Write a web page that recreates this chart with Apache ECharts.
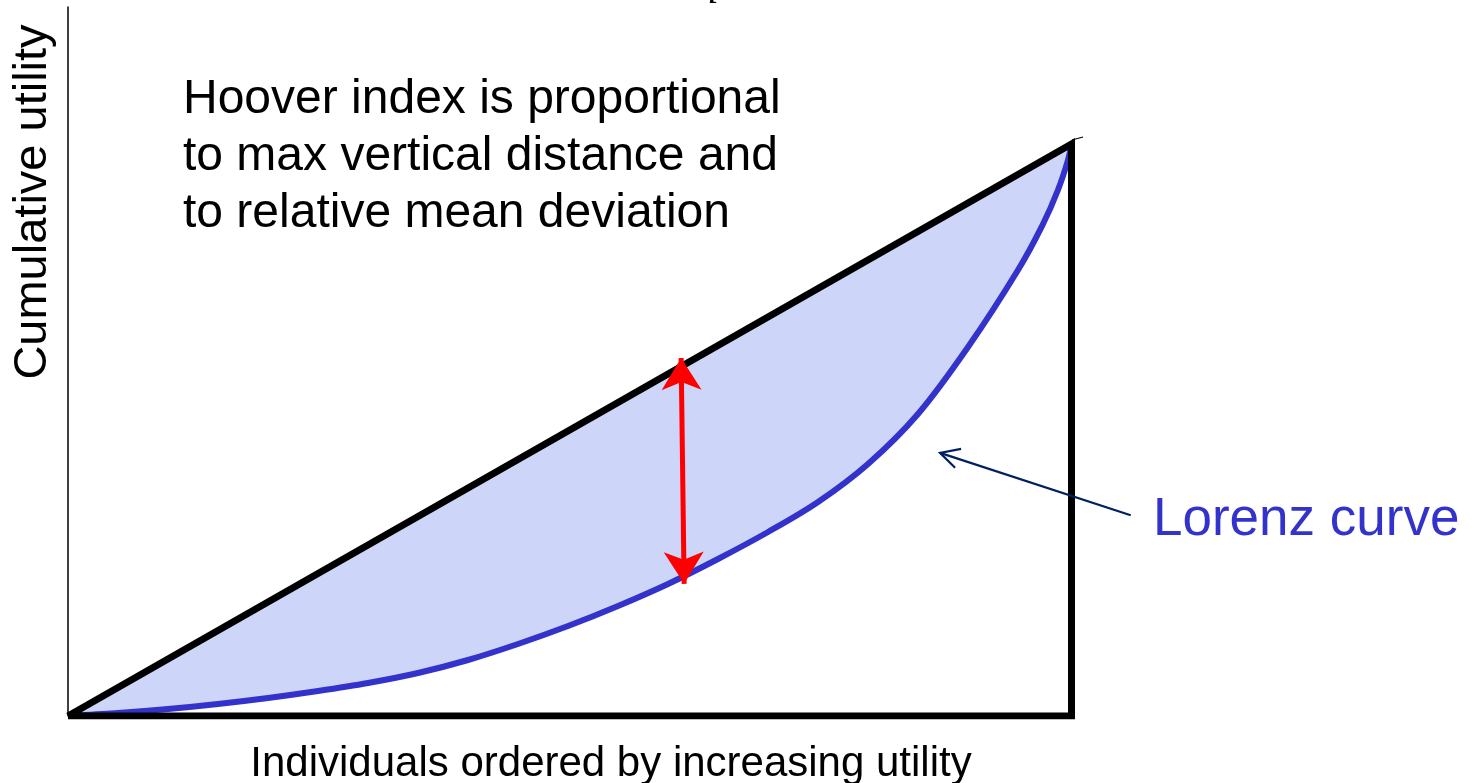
<!DOCTYPE html>
<html>
<head>
<meta charset="utf-8">
<script src="https://cdn.jsdelivr.net/npm/echarts@6/dist/echarts.min.js"></script>
<style>
html,body{margin:0;padding:0;background:#fff;}
#chart{width:1474px;height:783px;}
</style>
</head>
<body>
<div id="chart"></div>
<script>
// ---- data ----
const lorenzX = [0, 0.0498, 0.0997, 0.1495, 0.1993, 0.2491, 0.2989, 0.3488, 0.3986, 0.4484, 0.4983, 0.5481, 0.5979, 0.6477, 0.6976, 0.7474, 0.7972, 0.8470, 0.8969, 0.9467, 0.9716, 0.9865, 0.9965, 1];
const lorenzY = [0, 0.0052, 0.0122, 0.0210, 0.0315, 0.0437, 0.0577, 0.0752, 0.0979, 0.1259, 0.1573, 0.1923, 0.2308, 0.2745, 0.3217, 0.3741, 0.4406, 0.5280, 0.6451, 0.7797, 0.8601, 0.9196, 0.9720, 1];
const equalityLine = [[0, 0], [1, 1]];
const frameLine = [[0, 0], [1, 1], [1, 0], [0, 0]];
const hooverArrow = [[0.611, 0.626], [0.614, 0.231]];
const pointerLine = [[1.059, 0.351], [0.869, 0.460]];
const pointerHead = [[0.890, 0.467], [0.869, 0.460], [0.884, 0.434]];
const cornerTick = [[1.0005, 1.007], [1.0115, 1.0122]];
const noteLines = ['Hoover index is proportional', 'to max vertical distance and', 'to relative mean deviation'];
const curveLabel = 'Lorenz curve';
const xTitle = 'Individuals ordered by increasing utility';
const yTitle = 'Cumulative utility';

const lorenzData = lorenzX.map((x, i) => [x, lorenzY[i]]);

// smooth path (Catmull-Rom -> cubic Bezier) through pixel points
function curvePath(pts) {
  let d = 'M' + pts[0][0] + ',' + pts[0][1];
  for (let i = 0; i < pts.length - 1; i++) {
    const p0 = pts[Math.max(i - 1, 0)], p1 = pts[i], p2 = pts[i + 1], p3 = pts[Math.min(i + 2, pts.length - 1)];
    const c1x = p1[0] + (p2[0] - p0[0]) / 6, c1y = p1[1] + (p2[1] - p0[1]) / 6;
    const c2x = p2[0] - (p3[0] - p1[0]) / 6, c2y = p2[1] - (p3[1] - p1[1]) / 6;
    d += 'C' + c1x + ',' + c1y + ',' + c2x + ',' + c2y + ',' + p2[0] + ',' + p2[1];
  }
  return d;
}

const chart = echarts.init(document.getElementById('chart'));
const FONT = 'Liberation Sans, Arial, sans-serif';
const noteY = [100, 157, 214];
const X_MAX = 1.4;

chart.setOption({
  animation: false,
  backgroundColor: '#ffffff',
  grid: {left: 68, right: 1474 - 68 - X_MAX * 1003.5, top: 7, bottom: 67},
  xAxis: {type: 'value', min: 0, max: X_MAX, axisLine: {show: false}, axisTick: {show: false}, axisLabel: {show: false}, splitLine: {show: false}},
  yAxis: {type: 'value', min: 0, max: 709 / 572, axisLine: {show: true, lineStyle: {color: '#000', width: 1.5}}, axisTick: {show: false}, axisLabel: {show: false}, splitLine: {show: false}},
  series: [
    {type: 'custom', name: 'Lorenz curve', data: lorenzData, z: 2, silent: true, clip: false,
      encode: {x: 0, y: 1},
      renderItem: function (params, api) {
        if (params.dataIndex !== 0) return null;
        const pts = lorenzData.map(p => api.coord(p));
        const line = curvePath(pts);
        const eq = equalityLine.map(p => api.coord(p));
        const fill = line + 'L' + eq[0][0] + ',' + eq[0][1] + 'Z';
        return {type: 'group', children: [
          {type: 'path', shape: {pathData: fill}, style: {fill: '#cdd6f9', stroke: null}},
          {type: 'path', shape: {pathData: line}, style: {fill: null, stroke: '#3333cc', lineWidth: 6}}
        ]};
      }},
    {type: 'line', data: frameLine, symbol: 'none', lineStyle: {color: '#000', width: 7, join: 'miter', cap: 'butt'}, z: 4, silent: true},
    {type: 'line', data: cornerTick, symbol: 'none', lineStyle: {color: '#000', width: 1.2}, z: 4, silent: true},
    {type: 'line', data: pointerLine, symbol: 'none', lineStyle: {color: '#002060', width: 2.2}, z: 5, silent: true},
    {type: 'line', data: pointerHead, symbol: 'none', lineStyle: {color: '#002060', width: 2.2, join: 'miter'}, z: 5, silent: true},
    {type: 'line', data: [], symbol: 'none', z: 6,
      markLine: {silent: true, symbol: ['arrow', 'arrow'], symbolSize: [30, 32], label: {show: false},
        lineStyle: {color: '#ff0000', width: 5, type: 'solid'},
        emphasis: {disabled: true},
        data: [[{coord: hooverArrow[0]}, {coord: hooverArrow[1]}]]}}
  ],
  graphic: [
    ...noteLines.map((t, i) => ({type: 'text', x: 183, y: noteY[i], style: {text: t, font: '48px ' + FONT, fill: '#000', textAlign: 'left', textVerticalAlign: 'middle'}, silent: true})),
    {type: 'text', x: 1153, y: 520, style: {text: curveLabel, font: '53px ' + FONT, fill: '#3333cc', textAlign: 'left', textVerticalAlign: 'middle'}, silent: true},
    {type: 'text', x: 611, y: 764, style: {text: xTitle, font: '42px ' + FONT, fill: '#000', textAlign: 'center', textVerticalAlign: 'middle'}, silent: true},
    {type: 'text', x: 33, y: 202, rotation: Math.PI / 2, style: {text: yTitle, font: '47px ' + FONT, fill: '#000', textAlign: 'center', textVerticalAlign: 'middle'}, silent: true},
    {type: 'text', x: 713, y: 12, style: {text: 'i', font: 'italic 40px Liberation Serif, serif', fill: '#000', textAlign: 'center', textVerticalAlign: 'bottom'}, silent: true}
  ]
});
</script>
</body>
</html>
